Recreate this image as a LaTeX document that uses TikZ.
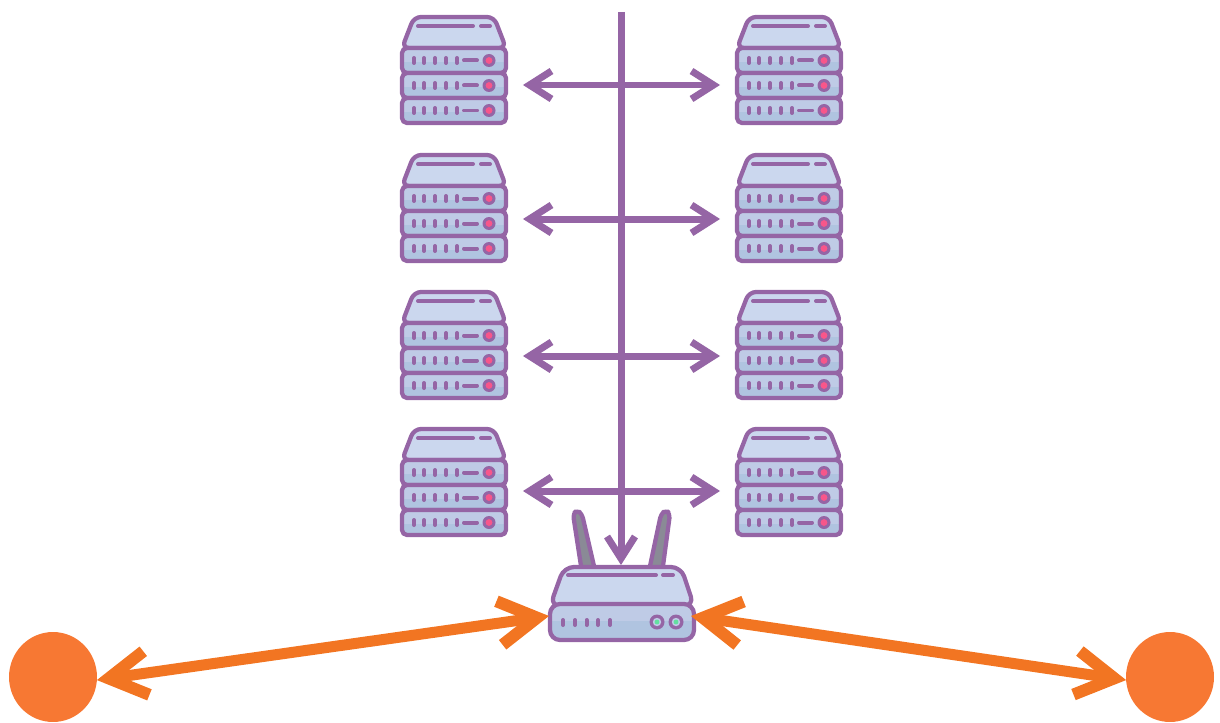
\documentclass[tikz,border=0pt]{standalone}
\usepackage{tikz}
\usetikzlibrary{arrows.meta}
\usetikzlibrary{shapes.geometric}
\definecolor{violet1}{HTML}{9565A5}
\definecolor{orange1}{HTML}{F27522}
\definecolor{orange2}{HTML}{F77833}
\definecolor{capot}{HTML}{CBD7EE}
\definecolor{corps}{HTML}{BFCBE6}
\definecolor{corpsbas}{HTML}{B0C4E0}
\definecolor{antenne}{HTML}{8A8A96}
\definecolor{rose}{HTML}{F8568A}
\definecolor{vert}{HTML}{62E0A0}
\begin{document}
\begin{tikzpicture}[x=0.02cm,y=-0.02cm]
% Styles
\tikzstyle{trait}=[violet1,line width=0.085cm,line join=round]
\tikzstyle{petit}=[violet1,line width=0.08cm,line cap=round]
\tikzstyle{ancre}=[rectangle,inner sep=0,outer sep=0,minimum width=2.76cm,minimum height=1.6cm]
\tikzstyle{routeur}=[rectangle,inner sep=0,outer sep=0,minimum width=2.96cm,minimum height=1.54cm]
\tikzstyle{client}=[ellipse,fill=orange2,inner sep=0,outer sep=0,minimum width=1.76cm,minimum height=1.8cm]
\tikzstyle{fleche}=[violet1,line width=0.14cm,{Straight Barb[length=0.44cm,width=0.56cm,line width=0.14cm]}-{Straight Barb[length=0.44cm,width=0.56cm,line width=0.14cm]}]
\tikzstyle{descente}=[violet1,line width=0.14cm,-{Straight Barb[length=0.44cm,width=0.56cm,line width=0.14cm]}]
\tikzstyle{lien}=[orange1,line width=0.22cm,{Straight Barb[length=0.76cm,width=0.88cm,line width=0.24cm]}-{Straight Barb[length=0.76cm,width=0.88cm,line width=0.24cm]}]
% Une tranche de serveur
\def\Tranche#1{
\fill[corpsbas,rounded corners=0.1cm] (2,#1) rectangle (106,#1+25);
\fill[corps] (4,#1+2) rectangle (104,#1+14);
\draw[trait,rounded corners=0.1cm] (2,#1) rectangle (106,#1+25);
\foreach \x in {14,24,35,46,57} {\draw[petit] (\x,#1+10) -- (\x,#1+15);}
\draw[petit] (64,#1+12.5) -- (77,#1+12.5);
\fill[violet1] (89,#1+12.5) circle (6.5);
\fill[rose] (89,#1+12.5) circle (3.4);
}
% Serveur : nom, x, y du haut, y de la fleche
\def\Serveur#1#2#3#4{
\begin{scope}[shift={(#2,#3)}]
\filldraw[trait,fill=capot,rounded corners=0.14cm] (2,33) -- (14,2) -- (94,2) -- (106,33) -- cycle;
\draw[petit] (18,11) -- (73,11);
\draw[petit] (81,11) -- (90,11);
\Tranche{33}
\Tranche{58}
\Tranche{83}
\end{scope}
\node[ancre] (#1) at (#2+54,#4) {};
}
\useasboundingbox (0,0) rectangle (1220,723);
% Colonne de gauche
\Serveur{g1}{400}{15}{85}
\Serveur{g2}{400}{153}{219}
\Serveur{g3}{400}{290}{356}
\Serveur{g4}{400}{427}{491}
% Colonne de droite
\Serveur{d1}{735}{15}{85}
\Serveur{d2}{735}{153}{219}
\Serveur{d3}{735}{290}{356}
\Serveur{d4}{735}{427}{491}
% Antennes
\filldraw[trait,fill=antenne,rounded corners=0.08cm] (581,566) -- (573,514) -- (577,510) -- (582,514) -- (594,566);
\filldraw[trait,fill=antenne,rounded corners=0.08cm] (650,566) -- (661,514) -- (666,510) -- (670,514) -- (663,566);
% Routeur
\node[routeur] (rt) at (622,603.5) {};
\filldraw[trait,fill=capot,rounded corners=0.2cm] (550,606) -- (564,567) -- (681,567) -- (694,606) -- cycle;
\fill[corpsbas,rounded corners=0.2cm] (550,604) rectangle (694,640);
\fill[corps] (552,606) rectangle (692,621);
\draw[trait,rounded corners=0.2cm] (550,604) rectangle (694,640);
\draw[petit] (568,575) -- (656,575);
\draw[petit] (663,575) -- (673,575);
\draw[petit] (563,620) -- (563,625);
\draw[petit] (575,620) -- (575,625);
\draw[petit] (586.5,620) -- (586.5,625);
\draw[petit] (598,620) -- (598,625);
\draw[petit] (610,620) -- (610,625);
\fill[violet1] (657,622) circle (7.5);
\fill[corps] (657,622) circle (4.2);
\fill[vert] (657,622) circle (2.4);
\fill[violet1] (676,622) circle (7.5);
\fill[corps] (676,622) circle (4.2);
\fill[vert] (676,622) circle (2.4);
% Clients
\node[client] (cg) at (53,677) {};
\node[client] (cd) at (1170,677) {};
% Points libres
\coordinate (haut) at (621,12);
\coordinate (rtg) at (549,616);
\coordinate (rtd) at (691,616);
% Fleches
\draw[fleche] (g1) -- (d1);
\draw[fleche] (g2) -- (d2);
\draw[fleche] (g3) -- (d3);
\draw[fleche] (g4) -- (d4);
\draw[descente] (haut) -- (haut |- rt.north);
\draw[lien] (cg.-4) -- (rtg);
\draw[lien] (rtd) -- (cd.184);
\end{tikzpicture}
\end{document}
